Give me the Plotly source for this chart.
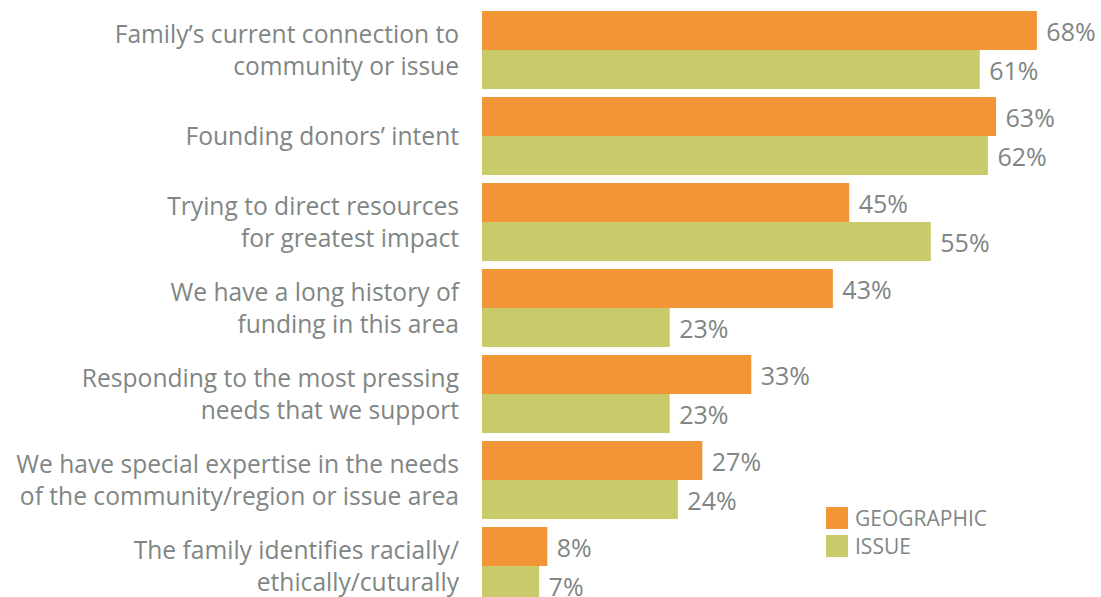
import plotly.graph_objects as go

categories = [
    "Family’s current connection to<br>community or issue",
    "Founding donors’ intent",
    "Trying to direct resources<br>for greatest impact",
    "We have a long history of<br>funding in this area",
    "Responding to the most pressing<br>needs that we support",
    "We have special expertise in the needs<br>of the community/region or issue area",
    "The family identifies racially/<br>ethically/cuturally",
]
geographic = [68, 63, 45, 43, 33, 27, 8]
issue = [61, 62, 55, 23, 23, 24, 7]
series_names = ["GEOGRAPHIC", "ISSUE"]
colors = ["#F29536", "#C9CA6A"]

W, H = 1101, 597
FONT = "Open Sans"
GRAY = "#7F8684"

fig = go.Figure()
for name, vals, col in zip(series_names, [geographic, issue], colors):
    fig.add_trace(go.Bar(
        y=categories, x=vals, name=name, orientation="h",
        marker=dict(color=col, line=dict(width=0)),
        text=[f"\u00a0{v}%" for v in vals], textposition="outside",
        textfont=dict(family=FONT, size=25, color=GRAY),
        cliponaxis=False, showlegend=False,
    ))

left = 482
pxper = 8.16
fig.update_layout(
    width=W, height=H,
    margin=dict(l=left, r=0, t=0, b=0, autoexpand=False),
    paper_bgcolor="white", plot_bgcolor="white",
    barmode="group", bargap=0.093, bargroupgap=0,
    xaxis=dict(range=[0, (W - left) / pxper], visible=False),
    yaxis=dict(
        categoryorder="array", categoryarray=categories,
        range=[(H - 50) / 86, -50 / 86],
        showgrid=False, zeroline=False, showline=False,
        ticks="", ticklabelstandoff=22, automargin=False,
        tickfont=dict(family=FONT, size=24.6, color=GRAY),
    ),
    uniformtext=dict(mode=False),
)

# legend drawn manually
leg = [(507, series_names[0], colors[0]), (535, series_names[1], colors[1])]
for ytop, name, col in leg:
    fig.add_shape(type="rect", xref="paper", yref="paper",
                  x0=(826 - left) / (W - left), x1=(848 - left) / (W - left),
                  y0=1 - (ytop + 22) / H, y1=1 - ytop / H,
                  fillcolor=col, line=dict(width=0))
    fig.add_annotation(xref="paper", yref="paper",
                       x=(853 - left) / (W - left), y=1 - (ytop + 11) / H,
                       xanchor="left", yanchor="middle", showarrow=False,
                       text=name, font=dict(family=FONT, size=21, color=GRAY))

fig.write_html("out.html", config={"displayModeBar": False},
               post_script="document.body.style.margin='0';document.body.style.overflow='hidden';")
